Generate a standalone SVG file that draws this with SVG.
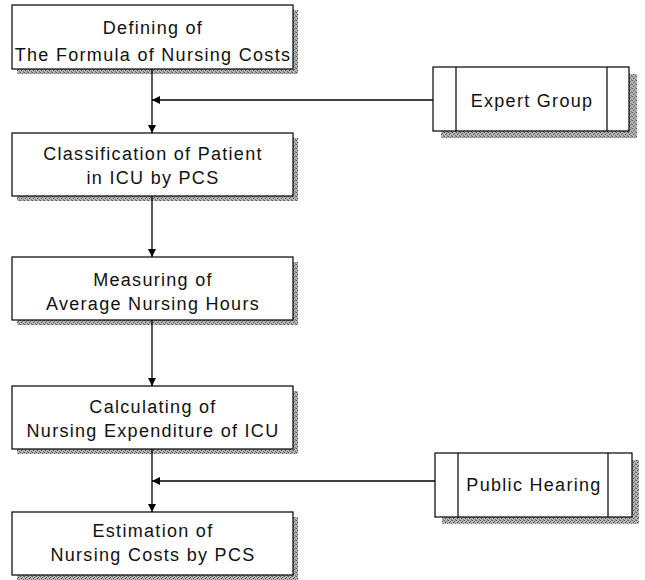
<svg xmlns="http://www.w3.org/2000/svg" width="645" height="580" viewBox="0 0 645 580">
<defs>
<pattern id="stip" width="4" height="4" patternUnits="userSpaceOnUse">
<rect width="4" height="4" fill="#b8b8b8"/>
<rect x="0" y="0" width="1" height="1" fill="#555"/>
<rect x="2" y="1" width="1" height="1" fill="#666"/>
<rect x="1" y="2" width="1" height="1" fill="#444"/>
<rect x="3" y="3" width="1" height="1" fill="#777"/>
<rect x="3" y="0" width="1" height="1" fill="#888"/>
</pattern>
<marker id="arr" viewBox="0 0 10 10" refX="10" refY="5" markerWidth="8" markerHeight="8" markerUnits="userSpaceOnUse" orient="auto">
<path d="M0,0 L10,5 L0,10 Z" fill="#000"/>
</marker>
</defs>
<style>
.shadow{fill:url(#stip);stroke:none}
.box{fill:#fff;stroke:#000;stroke-width:1.2}
.div{stroke:#000;stroke-width:1.2;fill:none}
.t{font-family:"Liberation Sans",Arial,sans-serif;font-size:18px;letter-spacing:1.3px;fill:#111;text-anchor:middle}
.c{stroke:#000;stroke-width:1.3;fill:none}
</style>
<rect width="645" height="580" fill="#fff"/>

<g id="node-defining">
<rect class="shadow" x="17" y="10" width="281" height="64"/>
<rect class="box" x="12" y="5" width="281" height="64"/>
<text class="t" x="153" y="34">Defining of</text>
<text class="t" x="153" y="61">The Formula of Nursing Costs</text>
</g>

<g id="node-classification">
<rect class="shadow" x="17" y="138" width="281" height="63"/>
<rect class="box" x="12" y="133" width="281" height="63"/>
<text class="t" x="153" y="160">Classification of Patient</text>
<text class="t" x="153" y="184">in ICU by PCS</text>
</g>

<g id="node-measuring">
<rect class="shadow" x="17" y="262" width="281" height="63"/>
<rect class="box" x="12" y="257" width="281" height="63"/>
<text class="t" x="153" y="286">Measuring of</text>
<text class="t" x="153" y="310">Average Nursing Hours</text>
</g>

<g id="node-calculating">
<rect class="shadow" x="17" y="391" width="281" height="63"/>
<rect class="box" x="12" y="386" width="281" height="63"/>
<text class="t" x="153" y="413">Calculating of</text>
<text class="t" x="153" y="437">Nursing Expenditure of ICU</text>
</g>

<g id="node-estimation">
<rect class="shadow" x="17" y="517" width="281" height="63"/>
<rect class="box" x="12" y="512" width="281" height="63"/>
<text class="t" x="153" y="537">Estimation of</text>
<text class="t" x="153" y="561">Nursing Costs by PCS</text>
</g>

<g id="node-expert">
<rect class="shadow" x="441" y="74" width="196" height="64"/>
<rect class="box" x="433" y="67" width="196" height="64"/>
<line class="div" x1="456" y1="67" x2="456" y2="131"/>
<line class="div" x1="607" y1="67" x2="607" y2="131"/>
<text class="t" x="532" y="107">Expert Group</text>
</g>

<g id="node-public">
<rect class="shadow" x="442" y="460" width="197" height="64"/>
<rect class="box" x="435" y="453" width="197" height="64"/>
<line class="div" x1="458" y1="453" x2="458" y2="517"/>
<line class="div" x1="608" y1="453" x2="608" y2="517"/>
<text class="t" x="534" y="491">Public Hearing</text>
</g>

<g id="connectors">
<line class="c" x1="152" y1="69" x2="152" y2="133" marker-end="url(#arr)"/>
<line class="c" x1="433" y1="100" x2="152" y2="100" marker-end="url(#arr)"/>
<line class="c" x1="152" y1="196" x2="152" y2="257" marker-end="url(#arr)"/>
<line class="c" x1="152" y1="320" x2="152" y2="386" marker-end="url(#arr)"/>
<line class="c" x1="152" y1="449" x2="152" y2="512" marker-end="url(#arr)"/>
<line class="c" x1="435" y1="481" x2="152" y2="481" marker-end="url(#arr)"/>
</g>
</svg>
